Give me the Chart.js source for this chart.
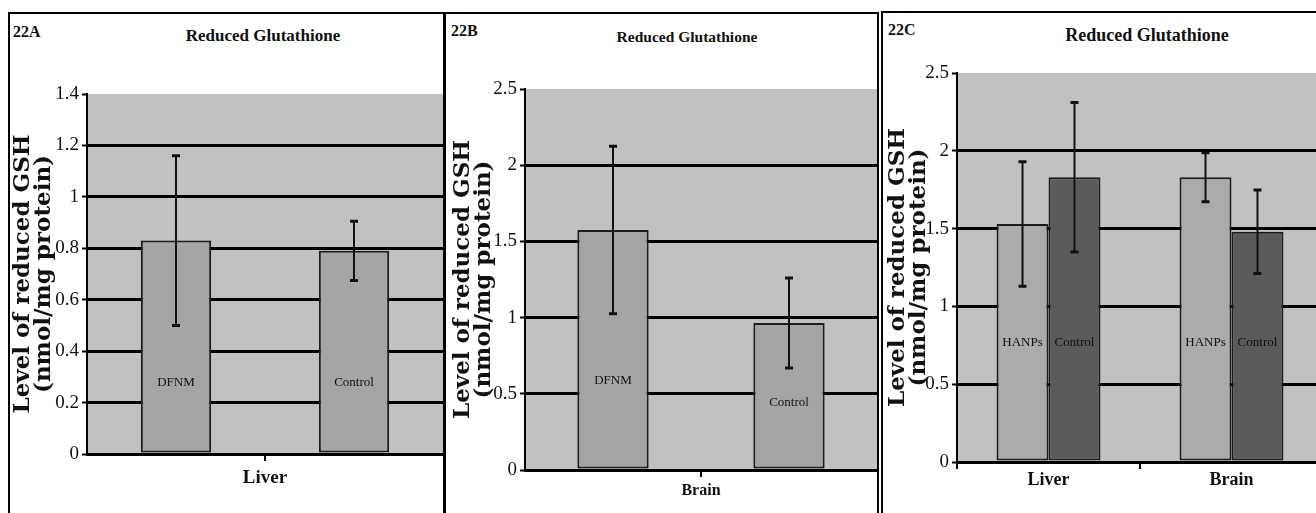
<!DOCTYPE html>
<html lang="en">
<head>
<meta charset="UTF-8">
<title>Reduced Glutathione</title>
<script src="https://cdn.jsdelivr.net/npm/chart.js@4"></script>
<style>
  body { margin: 0; background: #fff; }
  .page {
    position: relative;
    width: 1316px;
    height: 513px;
    overflow: hidden;
    background: #fff;
    font-family: 'Liberation Serif', 'Times New Roman', serif;
    color: #111;
  }
  .frame {
    position: absolute;
    height: 520px;
    border: 2px solid #000;
    border-bottom: none;
    box-sizing: border-box;
  }
  .tag { position: absolute; font-weight: bold; font-size: 16px; line-height: 1; }
  .title { position: absolute; width: 300px; text-align: center; line-height: 1; font-weight: bold; }
  canvas { position: absolute; }
</style>
</head>
<body>
<div class="page">
  <div class="frame" style="left:8px;top:12px;width:437px"></div>
  <div class="frame" style="left:444px;top:12px;width:435px"></div>
  <div class="frame" style="left:881px;top:11px;width:460px"></div>

  <div class="tag" style="left:13px;top:24px">22A</div>
  <div class="tag" style="left:451px;top:23px">22B</div>
  <div class="tag" style="left:888px;top:22px">22C</div>

  <div class="title" style="left:113px;top:27px;font-size:17px">Reduced Glutathione</div>
  <div class="title" style="left:537px;top:29px;font-size:15.5px">Reduced Glutathione</div>
  <div class="title" style="left:997px;top:26px;font-size:18px">Reduced Glutathione</div>

  <canvas id="chartA" width="432" height="498" style="left:11px;top:15px"></canvas>
  <canvas id="chartB" width="430" height="498" style="left:447px;top:15px"></canvas>
  <canvas id="chartC" width="439" height="499" style="left:884px;top:14px"></canvas>
</div>

<script>
    // 22A - liver GSH, DFNM vs control
    const organsA = ['Liver'];
    const groupsA = ['DFNM', 'Control'];
    const meansA = [0.83, 0.79];
    const errorsA = [0.33, 0.115];
    const yMaxA = 1.4;
    const yStepA = 0.2;

    // 22B - brain GSH, DFNM vs control
    const organsB = ['Brain'];
    const groupsB = ['DFNM', 'Control'];
    const meansB = [1.575, 0.965];
    const errorsB = [0.55, 0.295];
    const yMaxB = 2.5;
    const yStepB = 0.5;

    // 22C - liver and brain GSH, HANPs vs control
    const organsC = ['Liver', 'Brain'];
    const hanpsMeansC = [1.53, 1.83];
    const hanpsErrorsC = [0.40, 0.157];
    const controlMeansC = [1.83, 1.48];
    const controlErrorsC = [0.48, 0.268];
    const yMaxC = 2.5;
    const yStepC = 0.5;

    const axisTitle = ['Level of reduced GSH', '(nmol/mg protein)'];

    // grey fill behind the plot area
    const plotBackground = {
        id: 'plotBackground',
        beforeDraw(chart, args, opts) {
            const { ctx, chartArea: a } = chart;
            ctx.save();
            ctx.fillStyle = opts.color;
            ctx.fillRect(a.left, a.top, a.right - a.left, a.bottom - a.top);
            ctx.restore();
        }
    };

    // group name written inside each bar
    const barNames = {
        id: 'barNames',
        afterDatasetsDraw(chart, args, opts) {
            const { ctx } = chart;
            const y = chart.scales.y;
            ctx.save();
            ctx.font = opts.font;
            ctx.fillStyle = '#111';
            ctx.textAlign = 'center';
            ctx.textBaseline = 'middle';
            chart.data.datasets.forEach((ds, i) => {
                chart.getDatasetMeta(i).data.forEach(bar => {
                    ctx.fillText(ds.label, bar.x, y.getPixelForValue(opts.levels[i]));
                });
            });
            ctx.restore();
        }
    };

    // mean +/- error whiskers
    const errorBars = {
        id: 'errorBars',
        afterDatasetsDraw(chart, args, opts) {
            const { ctx } = chart;
            const y = chart.scales.y;
            ctx.save();
            ctx.strokeStyle = '#111';
            chart.data.datasets.forEach((ds, i) => {
                chart.getDatasetMeta(i).data.forEach((bar, j) => {
                    const top = y.getPixelForValue(ds.data[j] + ds.errors[j]);
                    const bottom = y.getPixelForValue(ds.data[j] - ds.errors[j]);
                    ctx.lineWidth = 2;
                    ctx.beginPath();
                    ctx.moveTo(bar.x, top);
                    ctx.lineTo(bar.x, bottom);
                    ctx.stroke();
                    ctx.lineWidth = 3;
                    ctx.beginPath();
                    ctx.moveTo(bar.x - opts.cap, top);
                    ctx.lineTo(bar.x + opts.cap, top);
                    ctx.moveTo(bar.x - opts.cap, bottom);
                    ctx.lineTo(bar.x + opts.cap, bottom);
                    ctx.stroke();
                });
            });
            ctx.restore();
        }
    };

    function bars(label, means, errors, color, catPct, barPct) {
        return {
            label: label,
            data: means,
            errors: errors,
            backgroundColor: color,
            borderColor: '#1c1c1c',
            borderWidth: 2,
            borderSkipped: false,
            categoryPercentage: catPct,
            barPercentage: barPct
        };
    }

    function buildChart(id, cfg) {
        return new Chart(document.getElementById(id), {
            type: 'bar',
            data: { labels: cfg.organs, datasets: cfg.datasets },
            options: {
                responsive: false,
                animation: false,
                devicePixelRatio: 1,
                layout: { padding: { top: cfg.top, left: 0, right: 0, bottom: 0 } },
                plugins: {
                    legend: { display: false },
                    tooltip: { enabled: false },
                    plotBackground: { color: '#c1c1c1' },
                    barNames: { font: '13px "Liberation Serif"', levels: cfg.nameLevels },
                    errorBars: { cap: 4 }
                },
                scales: {
                    x: {
                        ticks: {
                            color: '#111',
                            font: { family: 'Liberation Serif', weight: 'bold', size: cfg.xFont },
                            padding: cfg.xPad
                        },
                        grid: {
                            drawOnChartArea: false,
                            offset: cfg.gridOffset,
                            color: '#000',
                            lineWidth: 2,
                            tickLength: 7
                        },
                        border: { color: '#000', width: 3 },
                        afterFit: s => { s.height = cfg.xHeight; }
                    },
                    y: {
                        min: 0,
                        max: cfg.yMax,
                        ticks: {
                            stepSize: cfg.yStep,
                            color: '#111',
                            font: { family: 'Liberation Serif', size: 19 },
                            padding: 3,
                            callback: v => String(Math.round(v * 10) / 10)
                        },
                        grid: {
                            color: c => (c.tick && c.tick.value === cfg.yMax ? 'rgba(0,0,0,0)' : '#000'),
                            lineWidth: 3,
                            tickColor: '#000',
                            tickWidth: 2,
                            tickLength: 5
                        },
                        border: { color: '#000', width: 2 },
                        title: {
                            display: true,
                            text: axisTitle,
                            color: '#111',
                            font: { family: 'DejaVu Serif', weight: 'bold', size: 23, lineHeight: 0.9 },
                            padding: { top: cfg.titlePad, bottom: 0 }
                        },
                        afterFit: s => { s.width = cfg.yWidth; }
                    }
                }
            },
            plugins: [plotBackground, barNames, errorBars]
        });
    }

    buildChart('chartA', {
        organs: organsA,
        datasets: [
            bars(groupsA[0], [meansA[0]], [errorsA[0]], '#a5a5a5', 1, 0.395),
            bars(groupsA[1], [meansA[1]], [errorsA[1]], '#a5a5a5', 1, 0.395)
        ],
        nameLevels: [0.276, 0.276],
        yMax: yMaxA, yStep: yStepA,
        top: 79, yWidth: 76, xHeight: 59,
        titlePad: 1.5, xFont: 19, xPad: 6, gridOffset: false
    });

    buildChart('chartB', {
        organs: organsB,
        datasets: [
            bars(groupsB[0], [meansB[0]], [errorsB[0]], '#a5a5a5', 1, 0.405),
            bars(groupsB[1], [meansB[1]], [errorsB[1]], '#a5a5a5', 1, 0.405)
        ],
        nameLevels: [0.59, 0.44],
        yMax: yMaxB, yStep: yStepB,
        top: 74, yWidth: 78, xHeight: 43,
        titlePad: 5.5, xFont: 16, xPad: 4, gridOffset: false
    });

    buildChart('chartC', {
        organs: organsC,
        datasets: [
            bars('HANPs', hanpsMeansC, hanpsErrorsC, '#ababab', 0.568, 1),
            bars('Control', controlMeansC, controlErrorsC, '#5b5b5b', 0.568, 1)
        ],
        nameLevels: [0.77, 0.77],
        yMax: yMaxC, yStep: yStepC,
        top: 59, yWidth: 73, xHeight: 51,
        titlePad: 3.5, xFont: 18, xPad: 1, gridOffset: true
    });
</script>
</body>
</html>
